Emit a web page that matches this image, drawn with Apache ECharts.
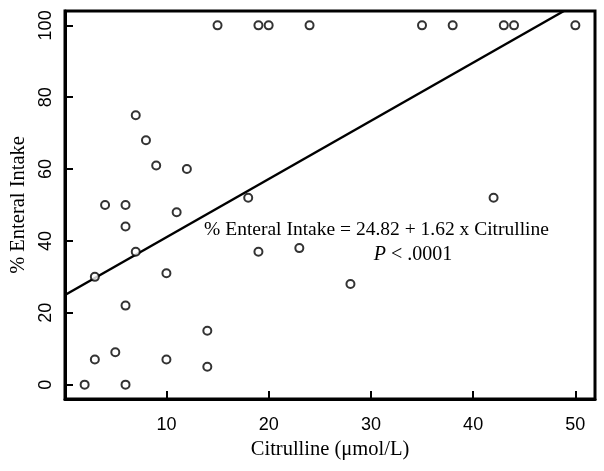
<!DOCTYPE html>
<html>
<head>
<meta charset="utf-8">
<script src="https://cdn.jsdelivr.net/npm/echarts@6/dist/echarts.min.js"></script>
<style>html,body{margin:0;padding:0;background:#fff}#c{width:604px;height:471px}</style>
</head>
<body>
<div id="c"></div>
<script>
// Data
var citrulline = [15,19,20,24,35,38,43,44,50, 7,8,9,12,4,6,6,11,18,42, 7,3,10,6,14,3,5,10,14,2,6,19,23,28];
var enteral    = [100,100,100,100,100,100,100,100,100, 75,68,61,60,50,50,44,48,52,52, 37,30,31,22,15,7,9,7,5,0,0,37,38,28];
var xTicks = [10,20,30,40,50];
var yTicks = [0,20,40,60,80,100];
var intercept = 24.82, slope = 1.62;
var xMin = 0.08, xMax = 51.92, yMin = -4, yMax = 104;

var points = citrulline.map(function(x,i){return [x, enteral[i]];});
var xEnd = (yMax - intercept) / slope;
var fitLine = [[xMin, intercept + slope*xMin], [xEnd, intercept + slope*xEnd]];

var chart = echarts.init(document.getElementById('c'), null, {renderer:'canvas'});
var sans = '"Liberation Sans", Arial, sans-serif';
var serif = '"Liberation Serif", "Times New Roman", serif';
chart.setOption({
  animation:false,
  backgroundColor:'#fff',
  grid:{left:63, top:11, right:9, bottom:72, show:true, borderColor:'#000', borderWidth:3, backgroundColor:'transparent'},
  xAxis:{
    type:'value', min:xMin, max:xMax,
    name:'Citrulline (\u03bcmol/L)', nameLocation:'middle', nameGap:40,
    nameTextStyle:{fontFamily:serif, fontSize:20.5, color:'#000'},
    axisLine:{show:true, onZero:false, lineStyle:{color:'#000', width:3}},
    axisTick:{show:true, inside:true, length:8, lineStyle:{color:'#000', width:2}, customValues:xTicks},
    axisLabel:{color:'#000', fontFamily:sans, fontSize:18, margin:17, customValues:xTicks},
    splitLine:{show:false}
  },
  yAxis:{
    type:'value', min:yMin, max:yMax,
    name:'% Enteral Intake', nameLocation:'middle', nameGap:36,
    nameTextStyle:{fontFamily:serif, fontSize:20.5, color:'#000'},
    axisLine:{show:true, onZero:false, lineStyle:{color:'#000', width:3}},
    axisTick:{show:true, inside:true, length:8, lineStyle:{color:'#000', width:2}, customValues:yTicks},
    axisLabel:{color:'#000', fontFamily:sans, fontSize:18, margin:10, rotate:90, customValues:yTicks},
    splitLine:{show:false}
  },
  series:[
    {type:'scatter', data:points, symbol:'emptyCircle', symbolSize:8,
     itemStyle:{color:'#000', borderColor:'#000', borderWidth:2.5}, z:3},
    {type:'line', data:fitLine, symbol:'none', clip:true,
     lineStyle:{color:'#000', width:2.5}, z:2}
  ],
  graphic:[
    {type:'text', style:{text:'% Enteral Intake = 24.82 + 1.62 x Citrulline', font:'19.5px ' + serif, fill:'#000', textAlign:'center', textVerticalAlign:'middle', x:376.5, y:230}},
    {type:'text', style:{rich:{i:{fontStyle:'italic', fontFamily:serif, fontSize:20, fill:'#000'}, n:{fontFamily:serif, fontSize:20, fill:'#000'}}, text:'{i|P}{n| < .0001}', textAlign:'center', textVerticalAlign:'middle', x:413, y:255}}
  ]
});
</script>
</body>
</html>
